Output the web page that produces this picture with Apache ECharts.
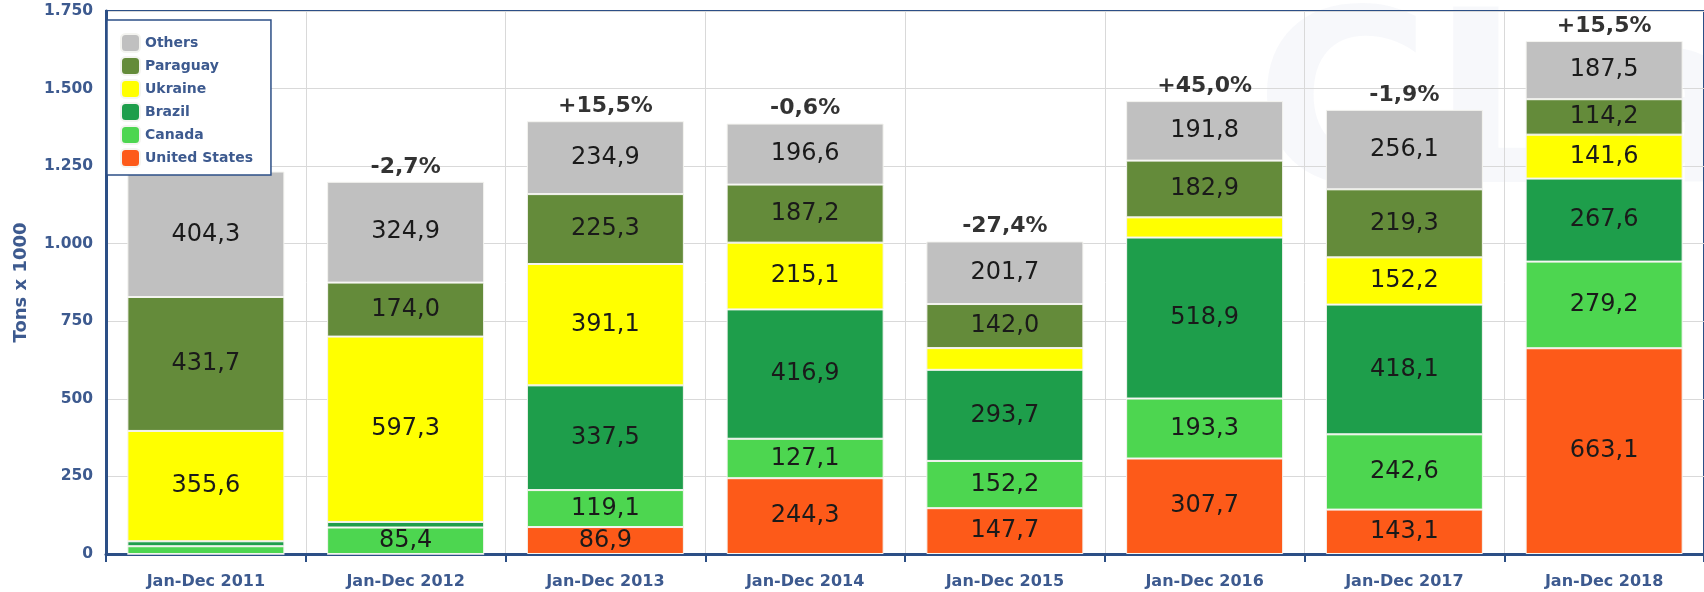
<!DOCTYPE html>
<html>
<head>
<meta charset="utf-8">
<script src="https://cdn.jsdelivr.net/npm/echarts@6/dist/echarts.min.js"></script>
<style>
  html, body { margin: 0; padding: 0; background: #fff; }
  #chart { width: 1704px; height: 592px; }
</style>
</head>
<body>
<div id="chart"></div>
<script>
// values in tons x 1000
const categories = ['Jan-Dec 2011', 'Jan-Dec 2012', 'Jan-Dec 2013', 'Jan-Dec 2014',
  'Jan-Dec 2015', 'Jan-Dec 2016', 'Jan-Dec 2017', 'Jan-Dec 2018'];
const unitedStates = [0, 0, 86.9, 244.3, 147.7, 307.7, 143.1, 663.1];
const canada = [25, 85.4, 119.1, 127.1, 152.2, 193.3, 242.6, 279.2];
const brazil = [16, 18, 337.5, 416.9, 293.7, 518.9, 418.1, 267.6];
const ukraine = [355.6, 597.3, 391.1, 215.1, 70, 65, 152.2, 141.6];
const paraguay = [431.7, 174.0, 225.3, 187.2, 142.0, 182.9, 219.3, 114.2];
const others = [404.3, 324.9, 234.9, 196.6, 201.7, 191.8, 256.1, 187.5];
const growth = ['', '-2,7%', '+15,5%', '-0,6%', '-27,4%', '+45,0%', '-1,9%', '+15,5%'];

const FONT = 'DejaVu Sans';
const navy = '#2c4f86';
const textBlue = '#3d5a8f';

const seriesDefs = [
  { name: 'United States', data: unitedStates, color: '#fd5a19' },
  { name: 'Canada', data: canada, color: '#4dd650' },
  { name: 'Brazil', data: brazil, color: '#1e9e4b' },
  { name: 'Ukraine', data: ukraine, color: '#ffff00' },
  { name: 'Paraguay', data: paraguay, color: '#648b3a' },
  { name: 'Others', data: others, color: '#c0c0c0' }
];

const totals = categories.map((c, i) => seriesDefs.reduce((s, d) => s + d.data[i], 0));

const chart = echarts.init(document.getElementById('chart'));

const series = seriesDefs.map(d => ({
  name: d.name,
  type: 'bar',
  stack: 'total',
  barWidth: 157,
  data: d.data,
  itemStyle: { color: d.color, borderColor: '#f4f4f0', borderWidth: 1 },
  label: {
    show: true,
    position: 'inside',
    fontFamily: FONT,
    fontSize: 24,
    color: '#1a1a1a',
    formatter: p => p.value >= 80 ? p.value.toFixed(1).replace('.', ',') : ''
  }
}));

// growth % above each stack
series.push({
  name: 'growth',
  type: 'scatter',
  data: totals,
  symbolSize: 0,
  silent: true,
  z: 5,
  label: {
    show: true,
    position: 'top',
    distance: 4,
    fontFamily: FONT,
    fontSize: 22,
    fontWeight: 'bold',
    color: '#000',
    formatter: p => growth[p.dataIndex]
  }
});

const option = {
  animation: false,
  backgroundColor: '#fff',
  textStyle: { fontFamily: FONT },
  // faint watermark, top right
  graphic: [{
    type: 'text',
    left: 1255,
    top: 0,
    z: -10,
    silent: true,
    style: {
      text: 'CLa',
      fontFamily: FONT,
      fontWeight: 'bold',
      fontSize: 240,
      fill: 'rgba(60,90,160,0.045)'
    }
  }],
  grid: {
    left: 106,
    top: 11,
    width: 1601,
    height: 543,
    show: true,
    borderColor: navy,
    borderWidth: 2
  },
  legend: {
    data: ['Others', 'Paraguay', 'Ukraine', 'Brazil', 'Canada', 'United States'],
    orient: 'vertical',
    left: 107,
    top: 20,
    icon: 'roundRect',
    itemWidth: 19,
    itemHeight: 18,
    itemGap: 3,
    padding: [13, 18, 7, 13],
    backgroundColor: '#fff',
    borderColor: navy,
    borderWidth: 1.5,
    z: 10,
    textStyle: { fontFamily: FONT, fontWeight: 'bold', fontSize: 14, color: textBlue }
  },
  xAxis: {
    type: 'category',
    data: categories,
    axisLine: { lineStyle: { color: navy, width: 3 } },
    axisTick: { show: true, length: 8, lineStyle: { color: navy, width: 2 } },
    splitLine: { show: true, lineStyle: { color: '#d9d9d9', width: 1 } },
    axisLabel: { margin: 20, fontFamily: FONT, fontWeight: 'bold', fontSize: 16, color: textBlue }
  },
  yAxis: {
    type: 'value',
    min: 0,
    max: 1750,
    interval: 250,
    name: 'Tons x 1000',
    nameLocation: 'middle',
    nameGap: 76,
    nameTextStyle: { fontFamily: FONT, fontWeight: 'bold', fontSize: 18, color: textBlue },
    axisLine: { show: true, lineStyle: { color: navy, width: 3 } },
    axisTick: { show: false },
    splitLine: { lineStyle: { color: '#d9d9d9', width: 1 } },
    axisLabel: {
      margin: 13,
      fontFamily: FONT,
      fontWeight: 'bold',
      fontSize: 15.5,
      color: textBlue,
      formatter: v => String(v).replace(/\B(?=(\d{3})+(?!\d))/g, '.')
    }
  },
  series: series
};

chart.setOption(option);
</script>
</body>
</html>
